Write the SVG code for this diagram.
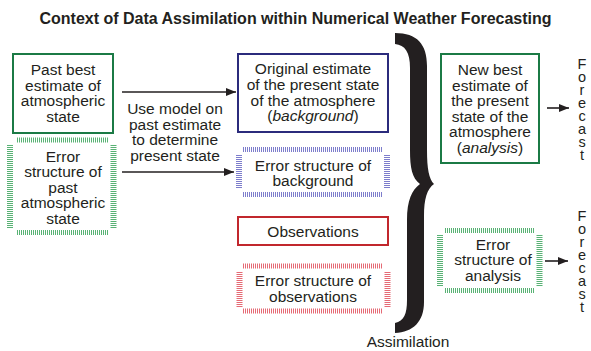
<svg xmlns="http://www.w3.org/2000/svg" width="591" height="351" viewBox="0 0 591 351">
<defs>
<marker id="ah" viewBox="0 0 10 8" refX="10" refY="4" markerWidth="10" markerHeight="8" markerUnits="userSpaceOnUse" orient="auto">
<path d="M0,0 L10,4 L0,8 Z" fill="#231f20"/>
</marker>
<style>
text{font-family:"Liberation Sans",Arial,sans-serif;font-size:15.5px;fill:#231f20;text-anchor:middle}
.title{font-weight:bold;font-size:16px}
.fc{font-size:14.5px;writing-mode:vertical-rl;text-orientation:upright;letter-spacing:-2.9px;text-anchor:start}
.it{font-style:italic}
.green{fill:#fff;stroke:#1b7a45;stroke-width:2}
.navy{fill:#fff;stroke:#2b2b7c;stroke-width:2}
.red{fill:#fff;stroke:#c1272d;stroke-width:2}
.h{fill:none;stroke-dasharray:1 1}
.hg{stroke:#58b274}
.hb{stroke:#7d7dcc}
.hr{stroke:#e56a75}
.tb{stroke-width:5}
.sd{stroke-width:6}
.conn line{stroke:#231f20;stroke-width:1.6;marker-end:url(#ah)}
</style>
</defs>
<rect width="591" height="351" fill="#fff"/>
<text class="title" x="295.5" y="24">Context of Data Assimilation within Numerical Weather Forecasting</text>

<g id="past-best">
<rect class="green" x="13" y="54" width="100" height="79"/>
<text x="63" y="75">Past best</text>
<text x="63" y="90.5">estimate of</text>
<text x="63" y="106">atmospheric</text>
<text x="63" y="121.5">state</text>
</g>

<g id="error-past">
<line class="h hg tb" x1="17" y1="140" x2="109" y2="140"/>
<line class="h hg tb" x1="17" y1="232.5" x2="109" y2="232.5"/>
<line class="h hg sd" x1="10" y1="145" x2="10" y2="228"/>
<line class="h hg sd" x1="113.5" y1="145" x2="113.5" y2="228"/>
<text x="63" y="161.5">Error</text>
<text x="63" y="177">structure of</text>
<text x="63" y="192.5">past</text>
<text x="63" y="208">atmospheric</text>
<text x="63" y="223.5">state</text>
</g>

<g id="model-label">
<text x="175" y="114">Use model on</text>
<text x="175" y="129.5">past estimate</text>
<text x="175" y="145">to determine</text>
<text x="175" y="160.5">present state</text>
</g>

<g id="background">
<rect class="navy" x="238" y="54" width="150" height="78"/>
<text x="313" y="74">Original estimate</text>
<text x="313" y="90">of the present state</text>
<text x="313" y="105.5">of the atmosphere</text>
<text x="313" y="121">(<tspan class="it">background</tspan>)</text>
</g>

<g id="error-background">
<line class="h hb tb" x1="243" y1="149.5" x2="383" y2="149.5"/>
<line class="h hb tb" x1="243" y1="194.5" x2="383" y2="194.5"/>
<line class="h hb sd" x1="239" y1="155" x2="239" y2="189"/>
<line class="h hb sd" x1="387" y1="155" x2="387" y2="189"/>
<text x="313" y="170.5">Error structure of</text>
<text x="313" y="186">background</text>
</g>

<g id="observations">
<rect class="red" x="238" y="217" width="150" height="28"/>
<text x="313" y="237">Observations</text>
</g>

<g id="error-observations">
<line class="h hr tb" x1="243" y1="266" x2="383" y2="266"/>
<line class="h hr tb" x1="243" y1="311" x2="383" y2="311"/>
<line class="h hr sd" x1="239.5" y1="272" x2="239.5" y2="307"/>
<line class="h hr sd" x1="387.5" y1="272" x2="387.5" y2="307"/>
<text x="313" y="286">Error structure of</text>
<text x="313" y="302">observations</text>
</g>

<g id="assimilation">
<path d="M395 33 C417 33 427 44 427 66 L427 150 C427 169 429 179 434 184 C427 189 424 199 424 216 L424 302 C424 322 413 332 395 333 L395 323 C404 321 407 314 407 300 L407 220 C407 200 412 190 420 184 C412 178 410 168 410 150 L410 68 C410 52 405 45 395 44 Z" fill="#231f20"/>
<text x="408" y="347">Assimilation</text>
</g>

<g id="analysis">
<rect class="green" x="441" y="54" width="98" height="109"/>
<text x="490" y="75">New best</text>
<text x="490" y="90.5">estimate of</text>
<text x="490" y="106">the present</text>
<text x="490" y="121.5">state of the</text>
<text x="490" y="137">atmosphere</text>
<text x="490" y="152.5">(<tspan class="it">analysis</tspan>)</text>
</g>

<g id="error-analysis">
<line class="h hg tb" x1="445" y1="230.5" x2="535" y2="230.5"/>
<line class="h hg tb" x1="445" y1="290.5" x2="535" y2="290.5"/>
<line class="h hg sd" x1="440" y1="235" x2="440" y2="287"/>
<line class="h hg sd" x1="539.5" y1="235" x2="539.5" y2="287"/>
<text x="493" y="249.5">Error</text>
<text x="493" y="265">structure of</text>
<text x="493" y="280.5">analysis</text>
</g>

<g id="forecast-1">
<text class="fc" x="582" y="55.5">Forecast</text>
</g>

<g id="forecast-2">
<text class="fc" x="582" y="207.5">Forecast</text>
</g>

<g class="conn" id="connectors">
<line x1="122" y1="92" x2="236" y2="92"/>
<line x1="122" y1="172" x2="234" y2="172"/>
<line x1="547" y1="108" x2="569" y2="108"/>
<line x1="545" y1="261" x2="568" y2="261"/>
</g>
</svg>
